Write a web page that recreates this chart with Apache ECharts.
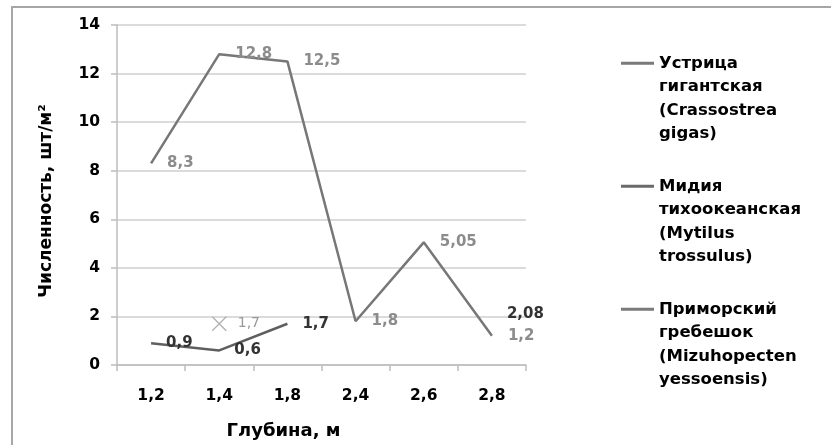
<!DOCTYPE html>
<html>
<head>
<meta charset="utf-8">
<script src="https://cdn.jsdelivr.net/npm/echarts@6/dist/echarts.min.js"></script>
<style>
html,body{margin:0;padding:0;background:#fff;}
#chart{width:831px;height:445px;}
</style>
</head>
<body>
<div id="chart"></div>
<script>
var categories = ['1,2', '1,4', '1,8', '2,4', '2,6', '2,8'];
var oysterValues = [8.3, 12.8, 12.5, 1.8, 5.05, 1.2];
var musselValues = [0.9, 0.6, 1.7, null, null, 2.08];
var scallopValues = [null, 1.7, null, null, null, null];
var seriesNames = [
  'Устрица\nгигантская\n(Crassostrea\ngigas)',
  'Мидия\nтихоокеанская\n(Mytilus\ntrossulus)',
  'Приморский\nгребешок\n(Mizuhopecten\nyessoensis)'
];
var yTicks = { min: 0, max: 14, interval: 2 };
var xTitle = 'Глубина, м';
var yTitle = 'Численность, шт/м²';

var FONT = 'DejaVu Sans';
function fmt(p) { return String(p.value).replace('.', ','); }

var chart = echarts.init(document.getElementById('chart'), null, { renderer: 'canvas' });
chart.setOption({
  backgroundColor: '#ffffff',
  animation: false,
  textStyle: { fontFamily: FONT },
  graphic: [{
    type: 'rect',
    shape: { x: 12, y: 7, width: 840, height: 460 },
    style: { fill: 'none', stroke: '#a6a6a6', lineWidth: 2 },
    silent: true
  }],
  grid: { left: 117, right: 305, top: 25, bottom: 77 },
  legend: {
    orient: 'vertical',
    left: 621,
    top: -19,
    padding: 0,
    itemGap: -41.5,
    icon: 'rect',
    itemWidth: 33,
    itemHeight: 3,
    selectedMode: false,
    formatter: function (name) { return '\n\n\n' + name; },
    textStyle: {
      fontFamily: FONT, fontWeight: 'bold', fontSize: 16.5, color: '#000',
      lineHeight: 23.5
    },
    data: [
      { name: seriesNames[0], itemStyle: { color: '#7a7a7a', borderWidth: 0 } },
      { name: seriesNames[1], itemStyle: { color: '#6a6a6a', borderWidth: 0 } },
      { name: seriesNames[2], itemStyle: { color: '#7a7a7a', borderWidth: 0 } }
    ]
  },
  xAxis: {
    type: 'category',
    data: categories,
    boundaryGap: true,
    name: xTitle,
    nameLocation: 'middle',
    nameGap: 57,
    nameTextStyle: { fontFamily: FONT, fontWeight: 'bold', fontSize: 18, color: '#000', padding: [0, 76, 0, 0] },
    axisLine: { lineStyle: { color: '#bdbdbd', width: 1.5 } },
    axisTick: { show: true, length: 6, lineStyle: { color: '#bdbdbd', width: 1.5 } },
    axisLabel: { fontFamily: FONT, fontWeight: 'bold', fontSize: 15.5, color: '#000', margin: 23 }
  },
  yAxis: {
    type: 'value',
    min: yTicks.min, max: yTicks.max, interval: yTicks.interval,
    name: yTitle,
    nameLocation: 'middle',
    nameRotate: 90,
    nameGap: 62,
    nameTextStyle: { fontFamily: FONT, fontWeight: 'bold', fontSize: 17, color: '#000', padding: [0, 12, 0, 0] },
    axisLine: { show: true, lineStyle: { color: '#bdbdbd', width: 1.5 } },
    axisTick: { show: true, length: 6, lineStyle: { color: '#bdbdbd', width: 1.5 } },
    axisLabel: { fontFamily: FONT, fontWeight: 'bold', fontSize: 15.5, color: '#000', margin: 17 },
    splitLine: { lineStyle: { color: '#cfcfcf', width: 1.5 } }
  },
  series: [
    {
      name: seriesNames[0],
      type: 'line',
      data: oysterValues,
      symbol: 'circle',
      symbolSize: 2,
      showSymbol: true,
      itemStyle: { color: 'transparent' },
      lineStyle: { color: '#777777', width: 2.5 },
      label: {
        show: true, position: 'right', distance: 15, formatter: fmt,
        fontFamily: FONT, fontWeight: 'bold', fontSize: 15, color: '#8c8c8c'
      },
      z: 3
    },
    {
      name: seriesNames[1],
      type: 'line',
      data: musselValues,
      symbol: 'circle',
      symbolSize: 2,
      showSymbol: true,
      itemStyle: { color: 'transparent' },
      lineStyle: { color: '#5f5f5f', width: 2.5 },
      label: {
        show: true, position: 'right', distance: 14, formatter: fmt,
        fontFamily: FONT, fontWeight: 'bold', fontSize: 15, color: '#333333'
      },
      z: 4
    },
    {
      name: seriesNames[2],
      type: 'line',
      data: scallopValues,
      symbol: 'path://M0,0L10,10M10,0L0,10',
      symbolSize: 14,
      showSymbol: true,
      itemStyle: { color: 'none', borderColor: '#b0b0b0', borderWidth: 1.3 },
      lineStyle: { color: '#7a7a7a', width: 2.5 },
      label: {
        show: true, position: 'right', distance: 9, formatter: fmt,
        fontFamily: FONT, fontWeight: 'normal', fontSize: 14, color: '#999999'
      },
      z: 5
    }
  ]
});
</script>
</body>
</html>
